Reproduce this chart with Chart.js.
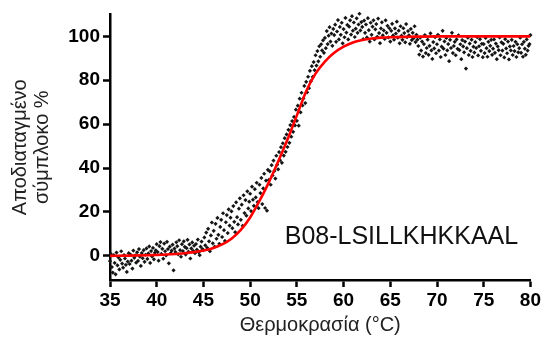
<!DOCTYPE html>
<html>
<head>
<meta charset="utf-8">
<script src="https://cdn.jsdelivr.net/npm/chart.js@4/dist/chart.umd.min.js"></script>
<style>
  html, body { margin: 0; padding: 0; background: #fff; }
  #wrap { width: 543px; height: 340px; }
</style>
</head>
<body>
<div id="wrap"><canvas id="melt" width="543" height="340"></canvas></div>
<script>
// Melting scan: temperature (°C) and percentage of unfolded complex
const temperature = [
35.0,35.1,35.2,35.3,35.4,35.5,35.6,35.7,35.8,35.9,
36.0,36.1,36.2,36.3,36.4,36.5,36.6,36.7,36.8,36.9,
37.0,37.1,37.2,37.3,37.4,37.5,37.6,37.7,37.8,37.9,
38.0,38.1,38.2,38.3,38.4,38.5,38.6,38.7,38.8,38.9,
39.0,39.1,39.2,39.3,39.4,39.5,39.6,39.7,39.8,39.9,
40.0,40.1,40.2,40.3,40.4,40.5,40.6,40.7,40.8,40.9,
41.0,41.1,41.2,41.3,41.4,41.5,41.6,41.7,41.8,41.9,
42.0,42.1,42.2,42.3,42.4,42.5,42.6,42.7,42.8,42.9,
43.0,43.1,43.2,43.3,43.4,43.5,43.6,43.7,43.8,43.9,
44.0,44.1,44.2,44.3,44.4,44.5,44.6,44.7,44.8,44.9,
45.0,45.1,45.2,45.3,45.4,45.5,45.6,45.7,45.8,45.9,
46.0,46.1,46.2,46.3,46.4,46.5,46.6,46.7,46.8,46.9,
47.0,47.1,47.2,47.3,47.4,47.5,47.6,47.7,47.8,47.9,
48.0,48.1,48.2,48.3,48.4,48.5,48.6,48.7,48.8,48.9,
49.0,49.1,49.2,49.3,49.4,49.5,49.6,49.7,49.8,49.9,
50.0,50.1,50.2,50.3,50.4,50.5,50.6,50.7,50.8,50.9,
51.0,51.1,51.2,51.3,51.4,51.5,51.6,51.7,51.8,51.9,
52.0,52.1,52.2,52.3,52.4,52.5,52.6,52.7,52.8,52.9,
53.0,53.1,53.2,53.3,53.4,53.5,53.6,53.7,53.8,53.9,
54.0,54.1,54.2,54.3,54.4,54.5,54.6,54.7,54.8,54.9,
55.0,55.1,55.2,55.3,55.4,55.5,55.6,55.7,55.8,55.9,
56.0,56.1,56.2,56.3,56.4,56.5,56.6,56.7,56.8,56.9,
57.0,57.1,57.2,57.3,57.4,57.5,57.6,57.7,57.8,57.9,
58.0,58.1,58.2,58.3,58.4,58.5,58.6,58.7,58.8,58.9,
59.0,59.1,59.2,59.3,59.4,59.5,59.6,59.7,59.8,59.9,
60.0,60.1,60.2,60.3,60.4,60.5,60.6,60.7,60.8,60.9,
61.0,61.1,61.2,61.3,61.4,61.5,61.6,61.7,61.8,61.9,
62.0,62.1,62.2,62.3,62.4,62.5,62.6,62.7,62.8,62.9,
63.0,63.1,63.2,63.3,63.4,63.5,63.6,63.7,63.8,63.9,
64.0,64.1,64.2,64.3,64.4,64.5,64.6,64.7,64.8,64.9,
65.0,65.1,65.2,65.3,65.4,65.5,65.6,65.7,65.8,65.9,
66.0,66.1,66.2,66.3,66.4,66.5,66.6,66.7,66.8,66.9,
67.0,67.1,67.2,67.3,67.4,67.5,67.6,67.7,67.8,67.9,
68.0,68.1,68.2,68.3,68.4,68.5,68.6,68.7,68.8,68.9,
69.0,69.1,69.2,69.3,69.4,69.5,69.6,69.7,69.8,69.9,
70.0,70.1,70.2,70.3,70.4,70.5,70.6,70.7,70.8,70.9,
71.0,71.1,71.2,71.3,71.4,71.5,71.6,71.7,71.8,71.9,
72.0,72.1,72.2,72.3,72.4,72.5,72.6,72.7,72.8,72.9,
73.0,73.1,73.2,73.3,73.4,73.5,73.6,73.7,73.8,73.9,
74.0,74.1,74.2,74.3,74.4,74.5,74.6,74.7,74.8,74.9,
75.0,75.1,75.2,75.3,75.4,75.5,75.6,75.7,75.8,75.9,
76.0,76.1,76.2,76.3,76.4,76.5,76.6,76.7,76.8,76.9,
77.0,77.1,77.2,77.3,77.4,77.5,77.6,77.7,77.8,77.9,
78.0,78.1,78.2,78.3,78.4,78.5,78.6,78.7,78.8,78.9,
79.0,79.1,79.2,79.3,79.4,79.5,79.6,79.7,79.8,79.9,
80.0
];

const unfolded = [
-2.4,0.8,-5.1,-7.6,0.3,-3.2,-8.4,1.5,-4.3,-0.7,
-6.2,-1.8,2.1,-3.5,-5.4,0.4,-1.2,-4.1,-7.3,-2.6,
1.2,-3.7,0.6,-2.2,-5.8,2.4,-0.9,0.2,-3.1,1.6,
-2.3,3.1,-0.4,-4.6,1.3,-1.1,2.6,-2.7,0.5,3.4,
-1.4,1.1,4.3,-3.2,2.2,-0.3,3.6,-1.6,1.4,2.5,
5.3,1.7,-2.2,4.4,6.3,0.9,3.2,-1.3,5.6,2.1,
0.2,6.4,3.1,-3.4,4.2,1.3,2.4,5.1,-6.6,3.3,
1.8,6.2,4.4,0.7,7.1,2.6,-0.4,5.3,2.2,6.6,
4.1,0.6,3.5,7.3,1.9,5.2,-1.2,3.4,6.1,2.3,
4.6,1.2,5.4,2.8,7.4,1.6,0.3,4.2,6.5,3.1,
2.6,8.4,4.8,10.6,3.7,12.3,6.6,2.1,9.3,15.2,
5.7,11.4,4.2,14.6,7.8,17.3,9.6,5.5,13.2,16.4,
8.6,19.4,11.7,6.8,15.3,18.6,10.4,21.2,13.8,17.4,
20.3,12.6,22.7,15.5,10.8,24.4,17.6,14.3,21.5,26.2,
16.4,23.3,13.7,27.6,19.5,25.4,18.3,29.4,21.6,24.7,
28.3,20.4,31.5,25.6,22.8,30.4,26.6,33.3,24.5,21.7,
32.4,28.6,35.5,23.6,30.7,37.4,21.8,34.3,20.6,39.2,
34.6,38.5,32.4,41.3,36.6,43.4,38.7,35.2,45.6,41.5,
39.4,47.3,43.6,49.5,42.4,51.3,45.7,53.6,47.4,55.3,
49.6,57.4,51.5,59.6,54.3,61.4,56.5,63.3,59.4,66.6,
61.5,68.4,59.3,71.6,65.4,74.3,68.5,71.7,77.4,69.6,
79.3,74.5,81.6,76.4,84.3,79.6,86.4,81.5,88.3,84.6,
91.4,86.7,93.3,88.6,95.5,90.7,96.4,93.6,98.2,92.5,
99.3,94.6,102.4,96.5,100.3,104.2,97.6,101.3,95.7,103.4,
100.6,105.3,97.5,102.2,107.4,98.6,104.3,100.7,106.2,96.8,
103.3,99.6,108.4,101.7,105.2,98.6,104.4,107.3,100.8,109.2,
102.6,106.3,99.7,103.5,108.2,101.6,105.4,110.3,102.7,106.5,
104.3,98.7,107.2,101.6,105.4,99.5,108.3,102.8,97.6,106.2,
100.7,104.4,107.3,98.6,103.2,105.6,99.8,108.1,101.5,96.9,
103.6,106.4,100.5,102.7,98.8,107.3,101.6,104.8,99.5,103.7,
97.6,102.5,105.7,100.4,98.5,103.6,101.3,106.7,99.4,102.6,
96.8,104.6,100.3,98.4,103.7,101.5,97.3,105.6,99.6,102.4,
100.5,96.6,103.4,98.3,101.6,99.2,104.6,97.4,100.7,98.5,
95.6,91.7,99.4,93.5,97.6,90.8,96.5,100.6,92.4,94.7,
98.5,91.6,95.7,101.4,93.6,89.7,97.4,94.5,99.6,92.3,
96.4,100.7,93.5,98.6,90.6,95.3,102.5,94.4,97.7,91.5,
99.3,93.6,96.5,88.7,98.4,94.7,101.6,92.4,95.6,97.5,
91.4,98.6,94.3,100.5,93.7,96.4,89.6,98.3,95.4,92.7,
97.6,85.3,94.6,99.4,91.5,96.7,93.4,98.5,90.6,95.3,
92.6,97.4,94.7,99.6,91.3,95.5,98.7,93.4,96.6,90.5,
96.5,92.4,99.3,94.6,90.7,97.5,93.3,95.7,98.4,91.6,
94.4,98.6,92.5,96.7,89.6,95.4,93.7,99.5,91.4,97.3,
93.5,96.6,90.4,98.7,94.5,92.3,97.6,89.5,95.4,93.6,
98.4,91.5,95.6,93.3,97.5,90.6,96.4,92.7,94.6,99.4,
92.5,96.4,90.7,97.5,94.4,91.6,98.6,93.5,95.7,96.5,
100.6
];

// Fitted two-state melting curve
const fitTemperature = [35,37,39,41,43,44,45,46,47,48,49,50,51,52,53,54,55,56,57,58,59,60,61,62,63,64,65,67,70,75,80];
const fitUnfolded    = [0,0.1,0.3,0.6,1.2,1.7,2.4,3.5,5.2,7.8,11.8,17.5,25,33.5,43,53,64,75,83,88.5,92.5,95.3,97.2,98.3,99,99.4,99.6,99.8,100,100,100];

const xTicks = [35,40,45,50,55,60,65,70,75,80];
const yTicks = [0,20,40,60,80,100];

const sampleName = 'B08-LSILLKHKKAAL';
const xTitle = 'Θερμοκρασία (°C)';
const yTitle = ['Αποδιαταγμένο', 'σύμπλοκο %'];

const points = temperature.map((t, i) => ({ x: t, y: unfolded[i] }));
const fit = fitTemperature.map((t, i) => ({ x: t, y: fitUnfolded[i] }));

const FONT = '"Liberation Sans", Arial, sans-serif';

const sampleLabel = {
  id: 'sampleLabel',
  afterDatasetsDraw(chart) {
    const { ctx, scales: { x, y } } = chart;
    ctx.save();
    ctx.font = '25px ' + FONT;
    ctx.fillStyle = '#111';
    ctx.textAlign = 'left';
    ctx.textBaseline = 'alphabetic';
    ctx.fillText(sampleName, x.getPixelForValue(53.7), y.getPixelForValue(5.6));
    ctx.restore();
  }
};

new Chart(document.getElementById('melt'), {
  type: 'scatter',
  data: {
    datasets: [
      {
        label: 'fit',
        data: fit,
        showLine: true,
        borderColor: '#ff0000',
        borderWidth: 2.6,
        pointRadius: 0,
        cubicInterpolationMode: 'monotone',
        order: 0
      },
      {
        label: 'data',
        data: points,
        pointStyle: 'rectRot',
        pointRadius: 2.1,
        backgroundColor: '#151515',
        borderWidth: 0,
        clip: false,
        order: 1
      }
    ]
  },
  options: {
    responsive: false,
    animation: false,
    events: [],
    layout: { padding: { left: 0, right: 11, top: 12, bottom: 0 } },
    plugins: { legend: { display: false }, tooltip: { enabled: false } },
    scales: {
      x: {
        type: 'linear',
        min: 35, max: 80,
        afterBuildTicks: s => { s.ticks = xTicks.map(v => ({ value: v })); },
        afterFit: s => { s.height = 60; },
        border: { display: true, color: '#000', width: 2.5 },
        grid: { drawOnChartArea: false, drawTicks: true, tickLength: 7, tickWidth: 2.5, tickColor: '#000' },
        ticks: { color: '#000', font: { family: FONT, size: 19, weight: 'bold' }, padding: 2, maxRotation: 0 },
        title: { display: true, text: xTitle, color: '#222', font: { family: FONT, size: 20 }, padding: { top: 0, bottom: 3 } }
      },
      y: {
        type: 'linear',
        min: -11, max: 110,
        afterBuildTicks: s => { s.ticks = yTicks.map(v => ({ value: v })); },
        afterFit: s => { s.width = 110; },
        border: { display: true, color: '#000', width: 2.5 },
        grid: { drawOnChartArea: false, drawTicks: true, tickLength: 7, tickWidth: 2.5, tickColor: '#000' },
        ticks: { color: '#000', font: { family: FONT, size: 19, weight: 'bold' }, padding: 3 },
        title: { display: true, text: yTitle, color: '#222', font: { family: FONT, size: 20, lineHeight: 1.1 }, padding: { top: 9, bottom: 0 } }
      }
    }
  },
  plugins: [sampleLabel]
});
</script>
</body>
</html>
